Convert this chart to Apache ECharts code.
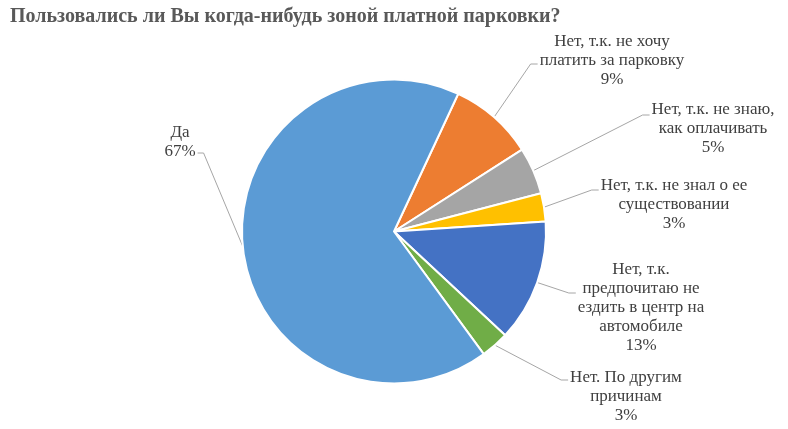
<!DOCTYPE html>
<html>
<head>
<meta charset="utf-8">
<script src="https://cdn.jsdelivr.net/npm/echarts@6/dist/echarts.min.js"></script>
<style>
  html, body { margin: 0; padding: 0; background: #fff; }
  #chart { width: 788px; height: 429px; }
</style>
</head>
<body>
<div id="chart"></div>
<script>
// answers, clockwise from the orange slice
var categories = [
    'Нет, т.к. не хочу\nплатить за парковку',
    'Нет, т.к. не знаю,\nкак оплачивать',
    'Нет, т.к. не знал о ее\nсуществовании',
    'Нет, т.к.\nпредпочитаю не\nездить в центр на\nавтомобиле',
    'Нет. По другим\nпричинам',
    'Да'
];
var shares = [9, 5, 3, 13, 3, 67];
var colors = ['#ED7D31', '#A5A5A5', '#FFC000', '#4472C4', '#70AD47', '#5B9BD5'];

// where each label box sits (center) and the y of its leader line
var labelCenters = [[612, 61], [713, 129], [674, 205], [641, 308], [626, 397], [180, 142]];
var leaderY = [64, 115, 190, 293, 380, 153];

var chart = echarts.init(document.getElementById('chart'));

chart.setOption({
    animation: false,
    backgroundColor: '#ffffff',
    title: {
        text: 'Пользовались ли Вы когда-нибудь зоной платной парковки?',
        left: 5,
        top: 2,
        textStyle: {
            fontFamily: 'Liberation Serif',
            fontWeight: 'bold',
            fontSize: 20,
            color: '#595959'
        }
    },
    series: [{
        type: 'pie',
        center: [394, 231.5],
        radius: 152,
        startAngle: 65,
        clockwise: true,
        itemStyle: { borderColor: '#ffffff', borderWidth: 2 },
        emphasis: { disabled: true },
        label: {
            show: true,
            position: 'outside',
            fontFamily: 'Liberation Serif',
            fontSize: 17,
            lineHeight: 19,
            color: '#404040',
            align: 'center',
            formatter: function (p) {
                return p.name + '\n' + Math.round(p.percent) + '%';
            }
        },
        labelLine: {
            show: true,
            lineStyle: { color: '#A6A6A6', width: 1 }
        },
        labelLayout: function (params) {
            var i = params.dataIndex;
            var c = labelCenters[i];
            var w = params.labelRect.width;
            var y = leaderY[i];
            var start = params.labelLinePoints[0];
            var isLeft = c[0] < 394;
            var end = isLeft ? c[0] + w / 2 + 2 : c[0] - w / 2 - 2;
            var knee = isLeft ? end + 6 : end - 7;
            return {
                x: c[0],
                y: c[1],
                align: 'center',
                verticalAlign: 'middle',
                labelLinePoints: [start, [knee, y], [end, y]]
            };
        },
        data: categories.map(function (name, i) {
            return { name: name, value: shares[i], itemStyle: { color: colors[i] } };
        })
    }]
});
</script>
</body>
</html>
